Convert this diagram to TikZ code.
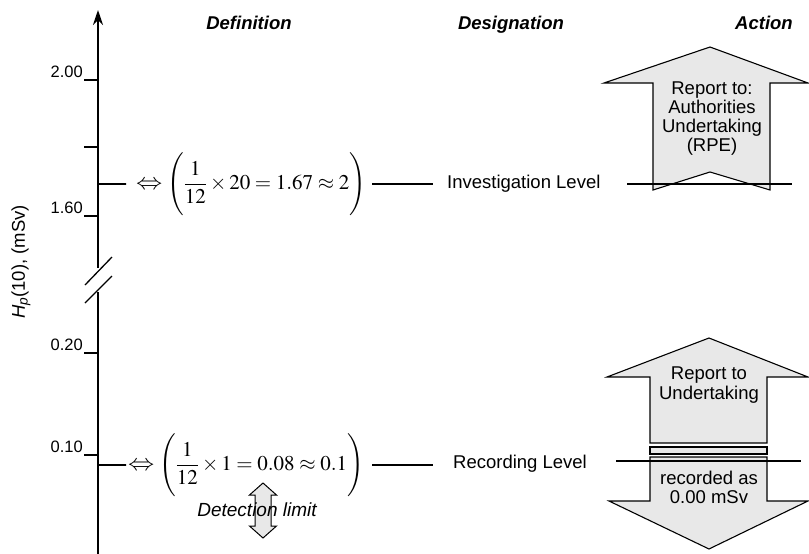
\documentclass[tikz,border=0pt]{standalone}
\usepackage{mathptmx}
\usepackage{graphicx}
\usepackage[no-math]{fontspec}
\setmainfont{Liberation Sans}
\usetikzlibrary{arrows.meta}
\definecolor{arrowgray}{RGB}{232,232,232}
\newcommand{\wideiff}{\mathrel{\scalebox{1.25}[1.1]{$\Leftrightarrow$}}}
\begin{document}
\begin{tikzpicture}[x=1pt,y=-1pt,
  lbl/.style={font=\fontsize{18.5}{19}\selectfont, inner sep=0pt},
  hdr/.style={font=\fontsize{18.5}{20}\selectfont\bfseries\itshape, inner sep=0pt, anchor=base},
  tickln/.style={line width=1.3pt},
  ticklbl/.style={font=\fontsize{16.5}{18}\selectfont, inner sep=0pt, anchor=base east},
  eqn/.style={font=\fontsize{21}{25}\selectfont, inner sep=0pt, anchor=west},
  dotln/.style={line width=1.3pt, dash pattern=on 1.6pt off 0.4pt, black},
  bigarrow/.style={draw=black, line width=1.1pt, fill=arrowgray, line join=miter},
  boxtxt/.style={font=\fontsize{18.5}{19}\selectfont, align=center, inner sep=0pt},
]
\useasboundingbox (0,0) rectangle (809,554);

% axis
\coordinate (axtop) at (98,10);
\coordinate (brkA) at (98,268);
\coordinate (brkB) at (98,292);
\coordinate (axbot) at (98,554);
\draw[line width=2.2pt, -{Stealth[length=15pt,width=10pt]}] (brkA) -- (axtop);
\draw[line width=1.8pt] (brkB) -- (axbot);
\draw[line width=1.3pt] (85,285) -- (112,257);
\draw[line width=1.3pt] (85,303) -- (112,276);

% ticks
\draw[tickln] (84,80) -- (98,80);
\draw[tickln] (84,147) -- (98,147);
\draw[tickln] (84,216) -- (98,216);
\draw[tickln] (84,353) -- (98,353);
\draw[tickln] (84,455) -- (98,455);
\node[ticklbl] (t200) at (83,77) {2.00};
\node[ticklbl] (t160) at (83,213) {1.60};
\node[ticklbl] (t020) at (83,350) {0.20};
\node[ticklbl] (t010) at (83,452) {0.10};

% axis label
\node[lbl, rotate=90] (ylab) at (21,262) {\textit{H}\textsubscript{\textit{p}}(10), (mSv)};

% headers
\node[hdr] (hdef) at (249,30) {Definition};
\node[hdr] (hdes) at (511,30) {Designation};
\node[hdr] (hact) at (764,30) {Action};

% equations
\node[eqn] (eq1) at (136,184) {\thickmuskip=4mu\medmuskip=2.5mu$\displaystyle\wideiff\Biggl(\frac{1}{12}\times 20=1.67\approx 2\Biggr)$};
\node[eqn] (eq2) at (128,465) {\thickmuskip=4mu\medmuskip=2.5mu$\displaystyle\wideiff\Biggl(\frac{1}{12}\times 1=0.08\approx 0.1\Biggr)$};

% designations
\node[lbl, anchor=base west] (inv) at (447,188) {Investigation Level};
\node[lbl, anchor=base west] (rec) at (453,468) {Recording Level};

% action arrows
\draw[bigarrow] (710,47) -- (808,83) -- (770,83) -- (770,190) -- (710,172) -- (653,190) -- (653,83) -- (604,83) -- cycle;
\node[boxtxt] (act1) at (712,119) {Report to:\\Authorities\\Undertaking\\(RPE)};

\draw[bigarrow] (709,338) -- (808,377) -- (767,377) -- (767,443) -- (650,443) -- (650,377) -- (607,377) -- cycle;
\draw[bigarrow] (650,447) rectangle (767,454);
\draw[bigarrow] (650,457) -- (767,457) -- (767,501) -- (808,501) -- (709,549) -- (609,501) -- (650,501) -- cycle;
\node[boxtxt, font=\fontsize{18.5}{20}\selectfont] (act2) at (709,385) {Report to\\Undertaking};
\node[boxtxt, font=\fontsize{18.5}{19}\selectfont] (act3) at (709,487.5) {recorded as\\0.00 mSv};

% connector lines
\coordinate (a1) at (98,184);
\coordinate (a2) at (98,465);
\coordinate (r1) at (372,184);
\coordinate (r2) at (372,465);
\draw[dotln, shorten >=10pt] (a1) -- (eq1.west);
\draw[dotln, shorten >=2pt] (a2) -- (eq2.west);
\draw[dotln, shorten >=14pt] (r1) -- (r1 -| inv.west);
\draw[dotln, shorten >=20pt] (r2) -- (r2 -| rec.west);
\coordinate (l1s) at (627,184);
\coordinate (l1e) at (792,184);
\draw[dotln] (l1s) -- (l1e);
\coordinate (l2s) at (616,461);
\coordinate (l2e) at (801,461);
\draw[dotln] (l2s) -- (l2e);

% detection limit
\draw[bigarrow, line width=1pt] (263,483) -- (276.5,495) -- (271,495) -- (271,526) -- (276.5,526) -- (263,538) -- (249.5,526) -- (255,526) -- (255,495) -- (249.5,495) -- cycle;
\node[font=\fontsize{19}{20}\selectfont\itshape, inner sep=0pt] (det) at (257,510) {Detection limit};
\end{tikzpicture}
\end{document}
